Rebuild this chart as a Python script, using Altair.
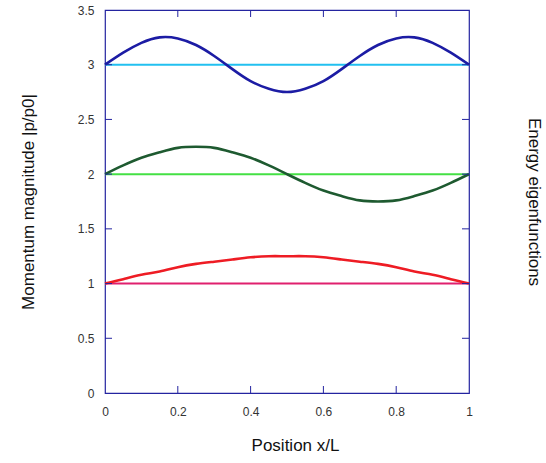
import altair as alt
import pandas as pd

# ---- data ----
x_pts = [0.0, 0.05, 0.1, 0.15, 0.2, 0.25, 0.3, 0.35, 0.4, 0.45, 0.5,
         0.55, 0.6, 0.65, 0.7, 0.75, 0.8, 0.85, 0.9, 0.95, 1.0]
blue_curve = [3.00, 3.11, 3.20, 3.25, 3.24, 3.18, 3.08, 2.96, 2.85, 2.78, 2.75,
              2.78, 2.85, 2.96, 3.08, 3.18, 3.24, 3.25, 3.20, 3.11, 3.00]
green_curve = [2.00, 2.08, 2.15, 2.20, 2.24, 2.25, 2.24, 2.20, 2.15, 2.08, 2.00,
               1.92, 1.85, 1.80, 1.76, 1.75, 1.76, 1.80, 1.85, 1.92, 2.00]
red_curve = [1.00, 1.04, 1.08, 1.11, 1.15, 1.18, 1.20, 1.22, 1.24, 1.25, 1.25,
             1.25, 1.24, 1.22, 1.20, 1.18, 1.15, 1.11, 1.08, 1.04, 1.00]
level_x = [0.0, 1.0]
levels = {"level3": 3.0, "level2": 2.0, "level1": 1.0}

x_tick_values = [0, 0.2, 0.4, 0.6, 0.8, 1]
y_tick_values = [0, 0.5, 1, 1.5, 2, 2.5, 3, 3.5]
x_inner_ticks = [0.2, 0.4, 0.6, 0.8]
y_inner_ticks = [0.5, 1, 1.5, 2, 2.5, 3]

series_names = ["level3", "level2", "level1", "curve3", "curve2", "curve1"]
series_colors = ["#22c0f0", "#44e044", "#e0206e", "#1c1ca4", "#1e5a30", "#ee1c24"]

# ---- tables ----
curves = pd.DataFrame(
    [{"series": "curve3", "x": x, "y": y} for x, y in zip(x_pts, blue_curve)]
    + [{"series": "curve2", "x": x, "y": y} for x, y in zip(x_pts, green_curve)]
    + [{"series": "curve1", "x": x, "y": y} for x, y in zip(x_pts, red_curve)]
)
lines = pd.DataFrame(
    [{"series": k, "x": x, "y": v} for k, v in levels.items() for x in level_x]
)
xt = pd.DataFrame({"x": x_inner_ticks})
yt = pd.DataFrame({"y": y_inner_ticks})

W, H = 364, 383
FONT = "Liberation Sans"
AXC = "#2424a0"

xscale = alt.Scale(domain=[0, 1], nice=False)
yscale = alt.Scale(domain=[0, 3.5], nice=False)
color = alt.Color("series:N", scale=alt.Scale(domain=series_names, range=series_colors), legend=None)

x_axis = alt.Axis(values=x_tick_values, format="~g", title="Position x/L", grid=False,
                  ticks=False, domain=False, labelPadding=13, labelFontSize=12,
                  labelColor="#333333", labelFont=FONT, titleFont=FONT, titleFontSize=17,
                  titleFontWeight="normal", titleColor="#111111",
                  titleX=190, titleY=52, titleBaseline="middle", labelFlush=False)
y_axis = alt.Axis(values=y_tick_values, format="~g", title="Momentum magnitude |p/p0|",
                  grid=False, ticks=False, domain=False, labelPadding=11, labelFontSize=12,
                  labelColor="#333333", labelFont=FONT, titleFont=FONT, titleFontSize=17,
                  titleFontWeight="normal", titleColor="#111111",
                  titleX=-77, titleY=H / 2, titleBaseline="middle", labelFlush=False)
y_axis_right = alt.Axis(orient="right", title="Energy eigenfunctions", labels=False,
                        ticks=False, domain=False, grid=False, titleFont=FONT,
                        titleFontSize=17, titleFontWeight="normal", titleColor="#111111",
                        titleX=64, titleY=H / 2, titleBaseline="middle", titleAngle=90)

X = alt.X("x:Q", scale=xscale, axis=x_axis)

level_layer = alt.Chart(lines).mark_line(strokeWidth=2).encode(
    x=X,
    y=alt.Y("y:Q", scale=yscale, axis=y_axis),
    color=color,
    detail="series:N",
)
curve_layer = alt.Chart(curves).mark_line(strokeWidth=2.6, interpolate="natural").encode(
    x=X,
    y=alt.Y("y:Q", scale=yscale, axis=y_axis_right),
    color=color,
    detail="series:N",
)

tick_len = 7
bottom_ticks = alt.Chart(xt).mark_rule(color=AXC, strokeWidth=1).encode(
    x=X, y=alt.value(H), y2=alt.value(H - tick_len))
top_ticks = alt.Chart(xt).mark_rule(color=AXC, strokeWidth=1).encode(
    x=X, y=alt.value(0), y2=alt.value(tick_len))
left_ticks = alt.Chart(yt).mark_rule(color=AXC, strokeWidth=1).encode(
    y=alt.Y("y:Q", scale=yscale, axis=None), x=alt.value(0), x2=alt.value(tick_len))
right_ticks = alt.Chart(yt).mark_rule(color=AXC, strokeWidth=1).encode(
    y=alt.Y("y:Q", scale=yscale, axis=None), x=alt.value(W - tick_len), x2=alt.value(W))

chart = alt.layer(
    level_layer, curve_layer, bottom_ticks, top_ticks, left_ticks, right_ticks
).resolve_scale(
    y="independent"
).properties(
    width=W, height=H,
    padding={"left": 105, "top": 10, "right": 77, "bottom": 70},
    autosize=alt.AutoSizeParams(type="none"),
    background="white",
).configure_view(
    stroke=AXC, strokeWidth=1.2
)

chart.save("out.html", embed_options={"renderer": "svg", "actions": False})
